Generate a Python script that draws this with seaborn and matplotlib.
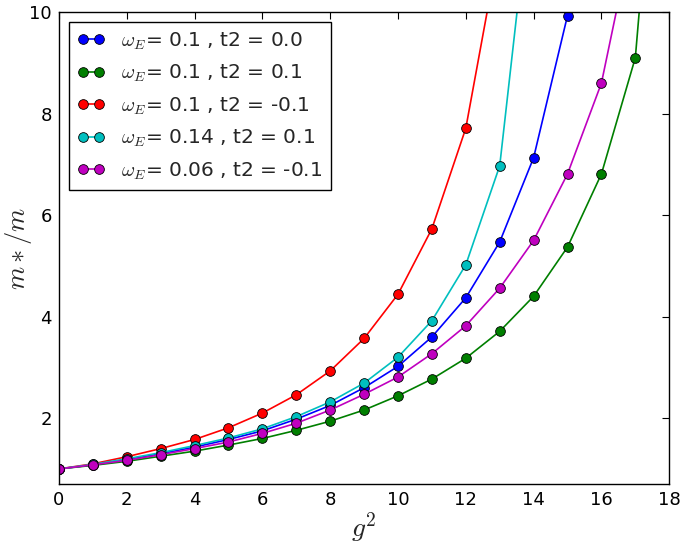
import pandas as pd
import seaborn as sns
import matplotlib.pyplot as plt

# effective mass ratio m*/m against g^2, one list per parameter set
g2_blue = list(range(0, 17))
m_blue = [1.0, 1.08, 1.18, 1.30, 1.43, 1.58, 1.75, 1.98, 2.25, 2.60, 3.02, 3.60, 4.37, 5.47, 7.13, 9.93, 15.0]

g2_green = list(range(0, 19))
m_green = [1.0, 1.07, 1.15, 1.25, 1.35, 1.47, 1.60, 1.76, 1.94, 2.16, 2.44, 2.77, 3.18, 3.71, 4.40, 5.37, 6.81, 9.10, 17.0]

g2_red = list(range(0, 14))
m_red = [1.0, 1.10, 1.24, 1.40, 1.58, 1.81, 2.10, 2.46, 2.93, 3.57, 4.44, 5.73, 7.71, 11.35]

g2_cyan = list(range(0, 15))
m_cyan = [1.0, 1.09, 1.20, 1.32, 1.46, 1.61, 1.79, 2.03, 2.32, 2.69, 3.20, 3.92, 5.02, 6.97, 12.9]

g2_magenta = list(range(0, 18))
m_magenta = [1.0, 1.08, 1.17, 1.28, 1.40, 1.53, 1.70, 1.90, 2.16, 2.47, 2.81, 3.27, 3.82, 4.56, 5.50, 6.81, 8.60, 11.8]

labels = [r'$\omega_E$= 0.1 , t2 = 0.0',
          r'$\omega_E$= 0.1 , t2 = 0.1',
          r'$\omega_E$= 0.1 , t2 = -0.1',
          r'$\omega_E$= 0.14 , t2 = 0.1',
          r'$\omega_E$= 0.06 , t2 = -0.1']
colors = ['#0000ff', '#007f00', '#ff0000', '#00bfbf', '#bf00bf']
series = [(g2_blue, m_blue), (g2_green, m_green), (g2_red, m_red),
          (g2_cyan, m_cyan), (g2_magenta, m_magenta)]

sns.set_style('white')
plt.rcParams['font.family'] = ['DejaVu Sans']
plt.rcParams['mathtext.fontset'] = 'cm'
plt.rcParams['xtick.direction'] = 'in'
plt.rcParams['ytick.direction'] = 'in'

fig = plt.figure(figsize=(6.85, 5.44), dpi=100)
ax = fig.add_axes([0.086, 0.11, 0.891, 0.868])

for (x, y), lab, col in zip(series, labels, colors):
    df = pd.DataFrame({'g2': x, 'm': y})
    sns.lineplot(data=df, x='g2', y='m', ax=ax, color=col, label=lab,
                 marker='o', markersize=7, markeredgecolor='black',
                 markeredgewidth=0.6, linewidth=1.2)

ax.set_xlim(0, 18)
ax.set_ylim(0.7, 10)
ax.set_xticks(range(0, 19, 2))
ax.set_yticks([2, 4, 6, 8, 10])
ax.tick_params(axis='both', which='major', labelsize=13, length=5, width=0.8,
               top=True, right=True, colors='black', pad=5)
for side in ax.spines.values():
    side.set_color('black')
    side.set_linewidth(1.0)

ax.set_xlabel(r'$g^2$', fontsize=20, labelpad=1)
ax.set_ylabel(r'$m*/m$', fontsize=19)
ax.yaxis.set_label_coords(-0.04, 0.5)

leg = ax.legend(loc='upper left', fontsize=14.5, numpoints=2, handlelength=1.4,
                labelspacing=0.55, fancybox=False, frameon=True, borderaxespad=0.5)
leg.get_frame().set_edgecolor('black')
leg.get_frame().set_linewidth(1.0)
leg.get_frame().set_alpha(1)

fig.savefig('out.png', dpi=100)
